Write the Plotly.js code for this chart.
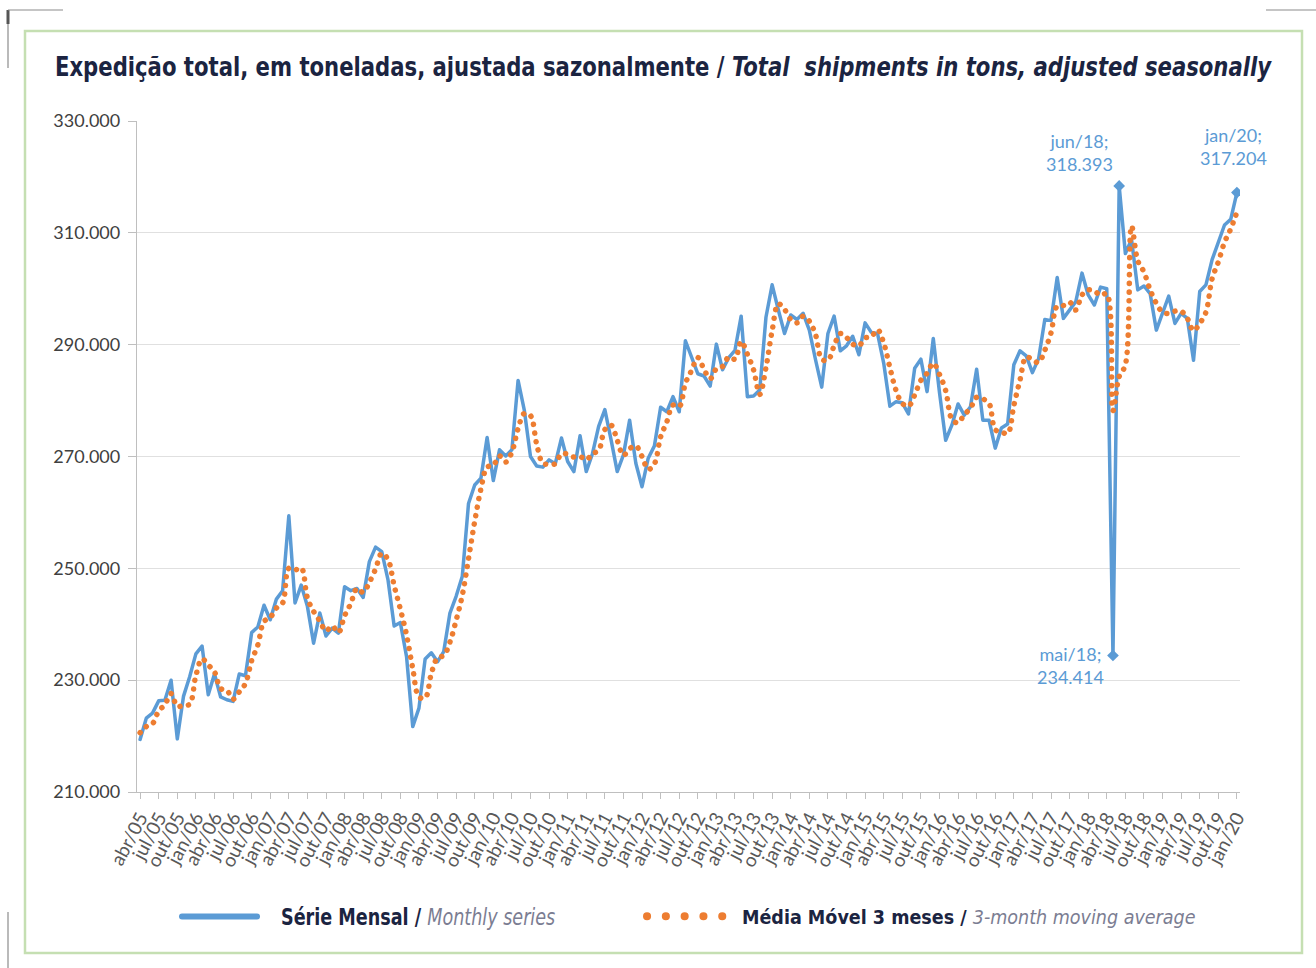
<!DOCTYPE html>
<html><head><meta charset="utf-8">
<script src="https://cdn.plot.ly/plotly-3.0.1.min.js"></script>
<style>
html,body{margin:0;padding:0;background:#fff;}
#chart{width:1316px;height:968px;}
.scatterlayer path.js-line{stroke-linejoin:round;stroke-linecap:round;}
.legend path.js-line,.legend2 path.js-line{stroke-linecap:round;}
.legend path.js-line{stroke-width:6px !important;}
.legend2 path.js-line{stroke-width:8px !important;stroke-dasharray:0.1px 18.7px !important;}
.gtitle{transform-box:fill-box;transform-origin:0 50%;transform:scaleX(0.872);}
.legend .legendtext{transform-box:fill-box;transform-origin:0 50%;transform:translateX(19px) scaleX(0.85);}
</style></head><body><div id="chart"></div>
<script>
// month labels (abr/05 .. jan/20)
const monthNames = ['jan','fev','mar','abr','mai','jun','jul','ago','set','out','nov','dez'];
const firstYear = 2005, firstMonth = 3, nMonths = 178;
const categories = [];
for (let k = 0; k < nMonths; k++) {
  const m = (firstMonth + k) % 12, y = firstYear + Math.floor((firstMonth + k) / 12);
  categories.push(monthNames[m] + '/' + String(y).slice(2));
}

// Série Mensal (tons)
const monthlySeries = [
219400,223200,224100,226300,226400,230000,219500,227100,230600,234700,
236100,227400,231100,227000,226500,226200,231100,230800,238500,239500,
243400,240800,244500,246000,259400,243800,247000,243200,236600,242000,
237900,239300,238400,246700,246000,246400,244800,251200,253800,253000,
248000,239700,240300,234200,221700,225000,233800,234900,233300,235100,
242000,245000,248600,261600,264900,266100,273400,265700,271200,270100,
271200,283600,278300,270000,268300,268100,269400,268700,273300,269100,
267300,273700,267300,270500,275400,278400,273000,267300,270300,276500,
268800,264600,269700,271900,278800,278000,280700,278000,290700,287600,
284800,284400,282600,290100,285500,287700,289000,295100,280700,280800,
281900,294900,300700,296200,292000,295300,294500,295600,292600,287300,
282400,292000,295100,288900,289800,291500,288200,293900,292200,292000,
286700,279000,279800,279600,277600,285800,287400,281600,291100,281500,
272900,275600,279400,277400,278900,285600,276500,276500,271500,275100,
275800,286400,288900,288000,285000,287500,294500,294300,302000,294700,
296200,297700,302800,298900,297100,300300,300000,234414,318393,306300,
308800,299800,300500,299100,292600,295600,298700,293800,295600,294700,
287200,299500,300700,305200,308400,311400,312400,317204
];

// Média Móvel 3 meses (tons)
const movingAverage = [
220600,221700,222200,224500,225600,227600,225300,225500,225700,230800,
233800,232700,231500,228500,228200,226600,227900,229400,233500,236300,
240500,241200,242900,243800,250000,249700,250100,244700,242300,240600,
238800,239700,238500,241500,243700,246400,245700,247500,249900,252700,
251600,246900,242700,238100,232100,227000,226800,231200,234000,234400,
236800,240700,245200,251700,258400,264200,268100,268400,270100,269000,
270800,275000,277700,277300,272200,268800,268600,268700,270500,270400,
269900,270000,269400,270500,271100,274800,275600,272900,270200,271400,
271900,270000,267700,268700,273500,276200,279200,278900,283100,285400,
287700,285600,283900,285700,286100,287800,287400,290600,288300,285500,
281100,285900,292500,297300,296300,294500,293900,295100,294200,291800,
287400,287200,289800,292000,291300,290100,289800,291200,291400,292700,
290300,285900,281800,279500,279000,281000,283600,284900,286700,284700,
281800,276700,276000,277500,278600,280600,280300,279500,274800,274400,
274100,279100,283700,287800,287300,286800,289000,292100,296900,297000,
297600,296200,298900,299800,299600,298800,299100,278200,284300,286400,
311200,305000,303000,299800,297400,295800,295600,296000,296000,294700,
292500,293800,295800,301800,304800,308300,310700,313700
];

// highlighted points (labelled)
const highlightIdx = [157, 158, 177];
const highlightShift = [[-42, -10], [-40, 33], [-3, 46]];

// y axis ticks
const yTicks = [210000, 230000, 250000, 270000, 290000, 310000, 330000];

const L = 137, R = 1240, T = 121, B = 792, W = 1316, H = 968;
const px = v => (v - L) / (R - L);
const py = v => (B - v) / (B - T);
const fmt = v => String(v).replace(/\B(?=(\d{3})+(?!\d))/g, '.');

const traces = [
  {x: categories, y: monthlySeries, type: 'scatter', mode: 'lines', legend: 'legend',
   name: '<b>Série Mensal / </b><i><span style="color:#7b7d92">Monthly series</span></i>',
   line: {color: '#5b9bd5', width: 3.5}},
  {x: categories, y: movingAverage, type: 'scatter', mode: 'lines', legend: 'legend2',
   name: '<b>Média Móvel 3 meses / </b><i><span style="color:#7b7d92">3-month moving average</span></i>',
   line: {color: '#ed7d31', width: 5.5, dash: '0.1px,8.5px', shape: 'spline', smoothing: 1}},
  {x: highlightIdx.map(i => categories[i]), y: highlightIdx.map(i => monthlySeries[i]),
   type: 'scatter', mode: 'markers', showlegend: false, hoverinfo: 'skip',
   marker: {symbol: 'diamond', size: 9, color: '#5b9bd5'}}
];

const annotations = highlightIdx.map((i, k) => ({
  x: categories[i], y: monthlySeries[i], xref: 'x', yref: 'y',
  text: categories[i] + ';<br>' + fmt(monthlySeries[i]),
  showarrow: false, xanchor: 'center', yanchor: 'middle',
  xshift: highlightShift[k][0], yshift: highlightShift[k][1],
  font: {family: 'Lato, sans-serif', size: 18, color: '#5b9bd5'}
}));

const grey = '#8c8c8c';
const shapes = [
  {type: 'rect', xref: 'paper', yref: 'paper', x0: px(25), x1: px(1302), y0: py(953), y1: py(31),
   line: {color: '#c5dfb2', width: 2.5}, layer: 'below'},
  {type: 'line', xref: 'paper', yref: 'paper', x0: px(8), x1: px(8), y0: py(10), y1: py(68), line: {color: grey, width: 1.2}},
  {type: 'line', xref: 'paper', yref: 'paper', x0: px(8), x1: px(8), y0: py(10), y1: py(24), line: {color: '#555', width: 3}},
  {type: 'line', xref: 'paper', yref: 'paper', x0: px(8), x1: px(63), y0: py(10), y1: py(10), line: {color: grey, width: 1.2}},
  {type: 'line', xref: 'paper', yref: 'paper', x0: px(1266), x1: px(1316), y0: py(10), y1: py(10), line: {color: grey, width: 1.2}},
  {type: 'line', xref: 'paper', yref: 'paper', x0: px(8), x1: px(8), y0: py(912), y1: py(968), line: {color: grey, width: 1.2}}
];

const legendFamily = '"DejaVu Sans Condensed", "Liberation Sans", sans-serif';

const layout = {
  width: W, height: H,
  margin: {l: L, r: W - R, t: T, b: H - B, pad: 0, autoexpand: false},
  paper_bgcolor: '#ffffff', plot_bgcolor: '#ffffff',
  separators: ',.',
  font: {family: 'Lato, sans-serif', color: '#595959'},
  title: {
    text: '<b>Expedição total, em toneladas, ajustada sazonalmente / <i>Total  shipments in tons, adjusted seasonally</i></b>',
    xref: 'container', yref: 'container', x: 55 / W, xanchor: 'left', y: 1 - 67 / H, yanchor: 'middle',
    font: {family: legendFamily, size: 27, color: '#1b2441'}
  },
  xaxis: {
    type: 'category', range: [-0.5, nMonths - 0.5],
    tickmode: 'linear', tick0: 0, dtick: 3,
    tickangle: -62, ticks: 'outside', ticklen: 6, tickcolor: '#bfbfbf', tickwidth: 1,
    showline: true, linecolor: '#bfbfbf', linewidth: 1.3, showgrid: false, zeroline: false,
    tickfont: {family: 'Lato, sans-serif', size: 19, color: '#595959'}
  },
  yaxis: {
    range: [210000, 330000], tickvals: yTicks, tickformat: ',.0f',
    ticks: 'outside', ticklen: 8, tickcolor: '#bfbfbf', tickwidth: 1, ticklabelstandoff: 4,
    showline: true, linecolor: '#bfbfbf', linewidth: 1.3,
    showgrid: true, gridcolor: '#e0e0e0', gridwidth: 1, zeroline: false,
    tickfont: {family: 'Lato, sans-serif', size: 18, color: '#404040'}
  },
  showlegend: true,
  legend: {
    orientation: 'h', x: px(177), xanchor: 'left', y: py(895), yanchor: 'top',
    itemwidth: 75, font: {family: legendFamily, size: 23, color: '#1b2441'}, bgcolor: 'rgba(0,0,0,0)'
  },
  legend2: {
    orientation: 'h', x: px(642), xanchor: 'left', y: py(897), yanchor: 'top',
    itemwidth: 90, font: {family: legendFamily, size: 19.5, color: '#1b2441'}, bgcolor: 'rgba(0,0,0,0)'
  },
  annotations: annotations,
  shapes: shapes
};

Plotly.newPlot('chart', traces, layout, {displayModeBar: false, responsive: false});
</script>
</body></html>
